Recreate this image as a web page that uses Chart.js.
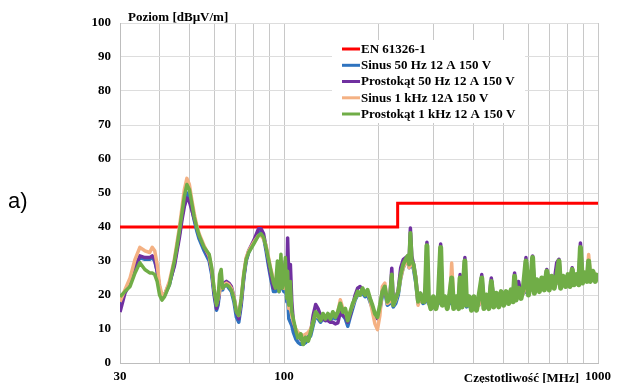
<!DOCTYPE html>
<html><head><meta charset="utf-8">
<script src="https://cdn.jsdelivr.net/npm/chart.js@4/dist/chart.umd.min.js"></script>
<style>html,body{margin:0;padding:0;background:#fff}#wrap{width:617px;height:383px}</style>
</head><body><div id="wrap"><canvas id="c" width="617" height="383"></canvas></div>
<script>
// Frequency grid (MHz)
const freqMHz = [
30, 31.1, 32.3, 33.5, 34.7, 36.0, 37.3, 38.0, 38.7, 39.4,
40.1, 40.8, 41.6, 43.1, 44.7, 45.5, 46.4, 47.25, 48.1, 49.0,
49.9, 50.8, 51.7, 52.65, 53.6, 55.6, 57.7, 58.8, 59.8, 60.9,
61.6, 62.3, 63.0, 63.7, 64.3, 65.5, 66.7, 67.9, 69.2, 70.45,
71.7, 73.0, 74.4, 75.7, 77.1, 80.0, 82.9, 84.45, 86.0, 87.6,
89.2, 90.8, 92.5, 93.8, 95.2, 96.3, 97.7, 98.7, 99.8, 100.9,
102.0, 102.6, 103.5, 104.7, 105.8, 107.0, 109.0, 110.9, 112.9, 115.0,
117.1, 119.3, 121.5, 123.7, 126.0, 128.3, 130.6, 133.0, 135.4, 137.9,
140.4, 143.0, 145.6, 148.3, 151.0, 153.8, 156.6, 159.5, 162.4, 165.4,
168.4, 171.5, 174.6, 177.8, 181.1, 184.4, 187.8, 191.2, 194.7, 198.3,
201.9, 205.6, 209.4, 213.2, 217.1, 220.3, 222.7, 226.8, 231.0, 235.2,
239.5, 243.9, 247.4, 250.2, 252.5, 255.1, 258.5, 262.3, 267.1, 272.0,
277.0, 281.6, 285.1, 288.2, 293.5, 298.9, 304.4, 310.0, 315.3, 319.2,
325.0, 330.9, 337.0, 341.9, 346.9, 353.3, 359.8, 363.6, 369.0, 376.6,
381.3, 388.3, 395.4, 402.6, 410.0, 417.5, 426.2, 433.0, 440.9, 449.0,
457.2, 465.6, 474.1, 482.8, 491.6, 500.6, 509.8, 519.1, 528.7, 536.5,
542.3, 548.2, 558.2, 568.5, 578.9, 589.5, 600.3, 611.3, 618.9, 627.0,
638.6, 650.4, 662.2, 674.4, 686.8, 699.4, 712.2, 725.2, 738.6, 751.0,
760.1, 774.1, 788.3, 802.7, 814.5, 827.7, 838.6, 854.1, 868.3, 879.0,
892.2, 908.3, 922.9, 933.6, 945.3, 962.6, 980.2, 1000
];
// Sinus 50 Hz 12 A 150 V (dBµV/m)
const sinus50 = [
17, 21, 23.5, 28, 31, 30.5, 30.5, 31, 30, 27,
22, 19.5, 20, 23, 29, 33.5, 38, 43, 47.5, 50,
48.5, 45.5, 42, 39, 36.5, 33, 30, 26, 20, 15.5,
17, 21, 23, 21.5, 22.5, 23, 22, 21, 18, 13.5,
12, 17, 25, 30, 32.5, 35.5, 38.5, 38.5, 37, 33,
28.5, 24.5, 21, 21, 22, 21, 24, 22, 21, 24,
18, 20, 13, 12, 11, 9, 7, 6, 5.5, 5.5,
6, 7, 8, 11, 14, 13, 12, 13, 12.5, 13,
12.5, 13.5, 13, 13.5, 16, 14, 13, 10.8, 13.5, 16,
18.5, 20, 20, 20.5, 19.5, 20, 18, 16, 14, 13.5,
15.5, 20, 21, 17, 17.5, 18, 16.5, 17.5, 20, 25,
28, 29.5, 30.5, 28, 30, 29, 27.5, 24, 17.5, 19,
17.5, 18, 20, 17.5, 17, 17.5, 17, 17.5, 19, 17,
17.5, 17, 17.5, 18, 17, 17.5, 17, 19, 17, 19,
16.5, 17, 17, 17, 17, 17, 18.5, 17.5, 17.5, 17.5,
19, 18, 18, 18, 18.5, 18.5, 19, 19, 19.5, 19.5,
20, 20, 20.5, 20, 20.5, 21, 21.5, 21.5, 22, 22,
22.5, 22.5, 22.5, 23, 23, 23, 23, 23.5, 23.5, 24,
23.5, 24, 24, 24, 24, 24.5, 24, 24, 24, 25,
24.5, 24.5, 24.5, 25, 24.5, 25, 24.5, 25
];
// Prostokąt 50 Hz 12 A 150 V
const prost50 = [
15, 20.5, 23.5, 28, 31.5, 31, 31, 31.5, 30.5, 27,
22, 19.5, 20, 23.5, 28.5, 32.5, 37, 42, 46, 48.5,
47.5, 45, 42.5, 40, 37.5, 34, 31, 27, 21, 16,
18, 21.5, 23.5, 22, 23.5, 24, 23.5, 22.5, 19.5, 15,
13, 18, 25.5, 30.5, 33, 36, 39.5, 39.5, 38, 34,
29.5, 25.5, 22, 22, 23, 22, 26, 23, 22, 30,
22, 36.8, 24, 29, 18, 12, 9.5, 8, 7, 6.5,
7, 7.5, 9, 14, 17.2, 16, 14, 13, 12.5, 12.5,
12, 12, 11.5, 11.8, 15, 14, 13.5, 12, 14, 17,
20, 22, 22.5, 21.5, 21, 20.5, 19, 16.5, 14, 13,
16, 21, 22, 18, 18.5, 27.9, 18, 19, 21.5, 28,
30.4, 31, 31.4, 30, 39.7, 31.4, 29, 25.5, 18.5, 20.5,
18.5, 19, 35.5, 19, 18, 19, 18, 18.5, 35, 18,
18.5, 18, 19, 21, 18, 19, 18, 26, 18, 31,
17.5, 17.5, 17.5, 17.5, 17.5, 17.5, 26, 18, 18, 18,
25, 18.5, 18.5, 18.5, 19, 19, 19.5, 19.5, 20, 20,
26.5, 20.5, 24, 20.5, 21, 31, 22, 22, 31.5, 22.5,
23, 23, 23, 23.5, 27.5, 23.5, 23.5, 24, 29.5, 30.5,
24.5, 24.5, 24.5, 24.5, 24.5, 28, 25, 25, 25, 35.3,
25.5, 25.5, 25.5, 29, 25.5, 26, 25.5, 25.5
];
// Sinus 1 kHz 12A 150 V
const sinus1k = [
18, 21.5, 25, 30.5, 34, 33, 32.5, 34, 33, 29,
23, 20, 20, 24, 30.5, 35, 40, 45.5, 51, 54.3,
52.5, 48, 44, 40.5, 38, 34.5, 31.5, 27.5, 22, 17.5,
19, 21, 23, 22, 23, 23.5, 23, 22, 19.5, 15.5,
14, 19, 26.5, 31, 33, 35.5, 37.5, 37.5, 36.5, 34.5,
31, 27.5, 24.5, 23, 24, 22, 25, 23, 22, 26,
20, 22, 16, 16, 14, 12, 10, 9, 8.5, 8,
8.5, 9, 10, 12, 14.5, 13.5, 13, 14, 13.5, 14,
13.5, 14.5, 14, 15, 18.6, 16, 15.5, 13, 15, 17,
19, 20.5, 20, 21.5, 20.5, 21, 18.5, 15, 11.5, 9.8,
14, 22.5, 23.5, 17.5, 18, 20, 17, 18.5, 21, 25,
28, 29.5, 30.5, 28, 31, 29.5, 28, 25.5, 17, 19.5,
19, 18.5, 21, 18, 16, 18, 17.5, 18, 22, 17.5,
18, 17.5, 18.5, 29.4, 18, 18, 17.5, 21, 17.5, 21,
17, 17, 17, 17, 17, 17, 20, 17.5, 17.5, 17.5,
20, 18, 18, 18, 18.5, 18.5, 19, 19, 19.5, 19.5,
21, 20, 20.5, 20, 20.5, 23, 21.5, 21.5, 24, 22,
22.5, 22.5, 22.5, 23, 23.5, 23, 23, 23.5, 23.5, 25,
24, 24, 24, 24, 24, 25, 24.5, 24.5, 24.5, 27,
25.5, 25.5, 25.5, 31.9, 26, 27, 26, 25.5
];
// Prostokąt 1 kHz 12 A 150 V
const prost1k = [
19.5, 21, 22.5, 26.5, 29.5, 27.5, 26.5, 26.5, 26, 24,
20, 18.5, 19.5, 23, 30, 34, 39, 44, 49, 52.5,
51, 47, 43, 40, 37.5, 34, 32, 28, 22, 17,
19, 26, 27.5, 22, 22.5, 23, 22.5, 21.5, 19, 15,
14, 19, 26, 30.5, 32.5, 35, 37.5, 38, 37, 34,
30.5, 27, 23.5, 22, 30, 21, 32, 22, 24, 31,
19, 27, 17, 24, 15, 13, 9.5, 7, 8.5, 5.5,
7.5, 6.5, 9, 12, 15, 14, 12.5, 14.5, 13, 14.5,
13, 15, 13.5, 15, 17.5, 15, 16, 12.5, 15, 17.5,
19, 21, 20, 22, 20, 21.5, 19, 17, 14.5, 13.5,
17, 21, 22.5, 18, 19, 26, 17, 19, 21, 26,
29, 30.5, 31.5, 29, 38.2, 30, 29, 25, 18, 20.5,
17.5, 19, 34.5, 19, 16, 19.5, 16, 19, 34, 17,
19.5, 16, 20, 25, 16, 19.5, 16, 25, 16.5, 30,
17, 19.5, 15.5, 19.5, 15.5, 19.5, 25, 16, 20, 16,
24, 16.5, 20.5, 16.5, 21, 17, 21, 17.5, 21.5, 18,
25.5, 18.5, 22, 19, 22.5, 30, 20, 24, 31, 20.5,
24.5, 21, 25, 21.5, 27, 21.5, 25.5, 22, 25.5, 30,
22, 25.5, 22.5, 26, 22.5, 27.5, 23, 26, 23, 34,
23.5, 26.5, 24, 30, 24, 27, 24, 26.5
];
// EN 61326-1 limit
const limitFreq = [30, 230, 230, 1000];
const limitLevel = [40, 40, 47, 47];

const xGridFreqs = [30, 40, 50, 60, 70, 80, 90, 100, 200, 300, 400, 500, 600, 700, 800, 900, 1000];
const xLabelFreqs = [30, 100, 1000];
const seriesLabels = ['EN 61326-1', 'Sinus 50 Hz 12 A 150 V', 'Prostokąt 50 Hz 12 A 150 V', 'Sinus 1 kHz 12A 150 V', 'Prostokąt 1 kHz 12 A 150 V'];
const seriesColors = ['#FF0000', '#2F73BF', '#7030A0', '#F4B183', '#70AD47'];
const yTitle = 'Poziom [dBµV/m]';
const xTitle = 'Częstotliwość [MHz]';
const panelLabel = 'a)';

const serif = '"Liberation Serif", "Times New Roman", serif';
const toPts = (xs, ys) => xs.map((x, i) => ({ x: x, y: ys[i] }));
const seriesValues = [sinus50, prost50, sinus1k, prost1k];

const datasets = [{
  label: seriesLabels[0], data: toPts(limitFreq, limitLevel),
  borderColor: seriesColors[0], borderWidth: 3, pointRadius: 0, order: 4, fill: false
}];
seriesValues.forEach((vals, k) => {
  const isTop = k === 3;
  datasets.push({
    label: seriesLabels[k + 1], data: toPts(freqMHz, vals),
    borderColor: seriesColors[k + 1], borderWidth: 3.5, pointRadius: 0,
    borderJoinStyle: 'round', order: 3 - k, fill: false,
    segment: {
      borderWidth: c => (isTop && c.p0.parsed.x >= 275) ? 5 : (isTop && c.p0.parsed.x >= 110 ? 4 : 3.5)
    }
  });
});

const decor = {
  id: 'decor',
  afterDraw(chart) {
    const ctx = chart.ctx;
    ctx.save();
    // legend box
    ctx.fillStyle = '#ffffff';
    ctx.fillRect(332, 40, 193, 83);
    const rows = [49, 65.3, 81.5, 97.8, 114];
    ctx.font = 'bold 13px ' + serif;
    ctx.textBaseline = 'middle';
    ctx.textAlign = 'left';
    chart.data.datasets.forEach((ds, i) => {
      ctx.strokeStyle = ds.borderColor;
      ctx.lineWidth = 3;
      ctx.beginPath();
      ctx.moveTo(342, rows[i]);
      ctx.lineTo(360, rows[i]);
      ctx.stroke();
      ctx.fillStyle = '#000';
      ctx.fillText(ds.label, 361, rows[i] + 0.5);
    });
    // axis titles
    ctx.textBaseline = 'alphabetic';
    ctx.font = 'bold 13px ' + serif;
    ctx.fillText(yTitle, 128, 21);
    ctx.textAlign = 'right';
    ctx.fillText(xTitle, 579, 382);
    // panel label
    ctx.textAlign = 'left';
    ctx.font = '22px "Liberation Sans", Arial, sans-serif';
    ctx.fillText(panelLabel, 8, 208);
    ctx.restore();
  }
};

new Chart(document.getElementById('c'), {
  type: 'line',
  data: { datasets: datasets },
  options: {
    responsive: false,
    animation: false,
    events: [],
    layout: { padding: { left: 0, right: 14, top: 23, bottom: 0 } },
    plugins: { legend: { display: false }, tooltip: { enabled: false } },
    elements: { line: { tension: 0 } },
    scales: {
      x: {
        type: 'logarithmic', position: 'bottom', min: 30, max: 1000,
        afterBuildTicks: s => { s.ticks = xGridFreqs.map(v => ({ value: v })); },
        afterFit: s => { s.height = 20; },
        grid: { color: '#c8c8c8', lineWidth: 1, drawTicks: false },
        border: { color: '#bdbdbd' },
        ticks: {
          autoSkip: false, maxRotation: 0, minRotation: 0, padding: 6, color: '#000',
          font: { family: serif, size: 13, weight: 'bold' },
          callback: v => xLabelFreqs.includes(v) ? String(v) : ''
        }
      },
      y: {
        min: 0, max: 100,
        afterFit: s => { s.width = 120; },
        grid: { color: '#dddddd', lineWidth: 1, drawTicks: false },
        border: { color: '#bdbdbd' },
        ticks: {
          stepSize: 10, padding: 9, color: '#000',
          font: { family: serif, size: 13, weight: 'bold' }
        }
      }
    }
  },
  plugins: [decor]
});
</script>
</body></html>
